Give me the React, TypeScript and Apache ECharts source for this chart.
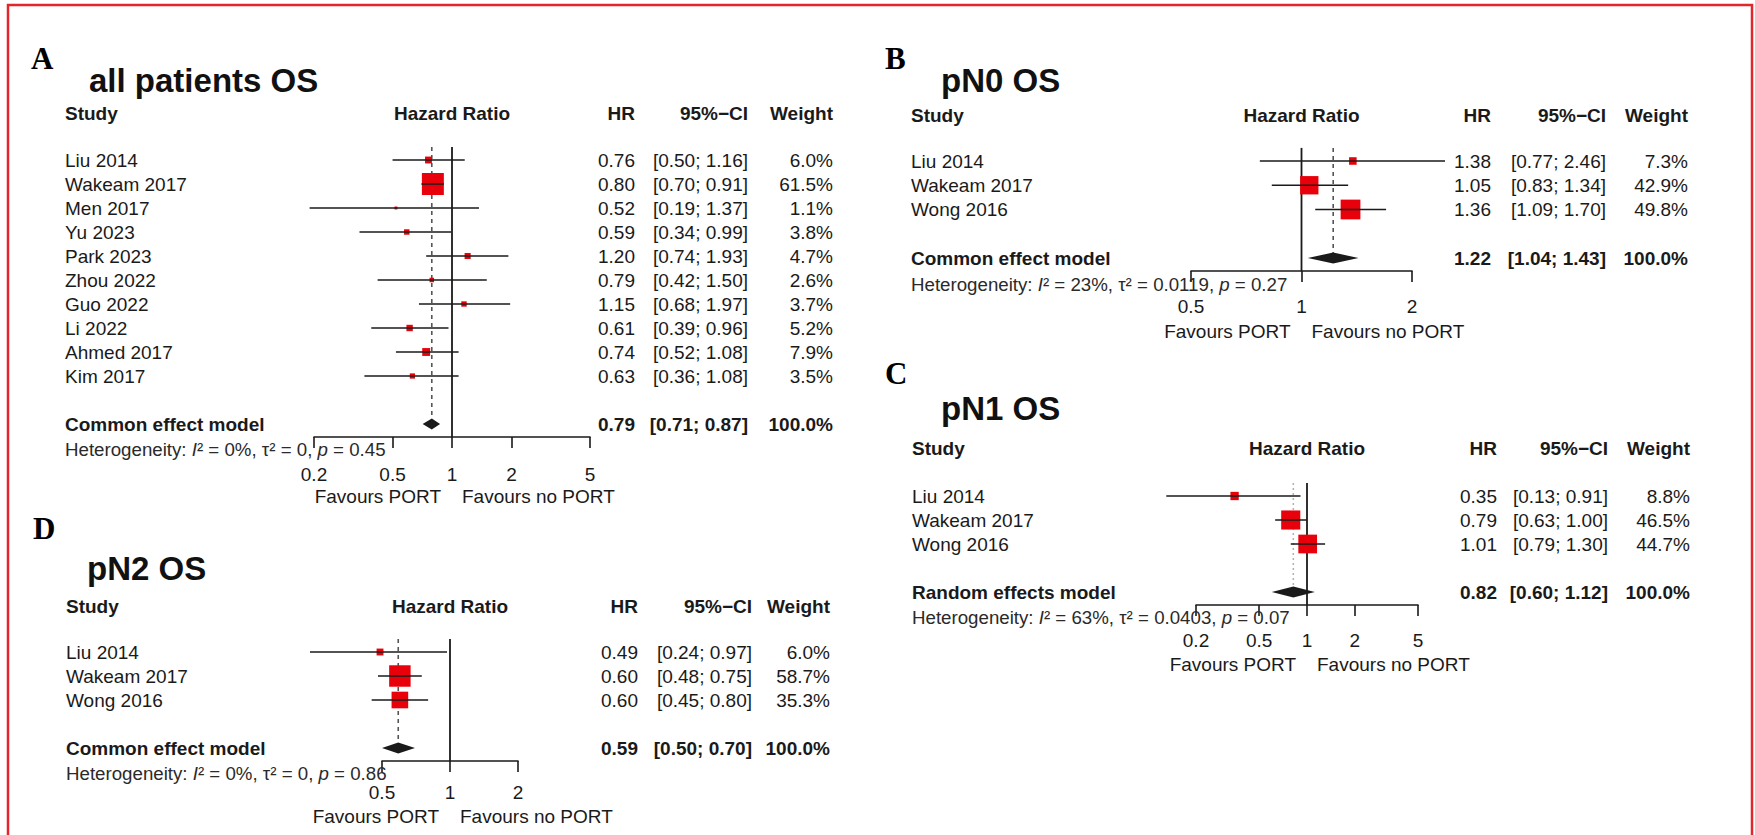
import React, { useEffect, useRef } from "react";
import * as echarts from "echarts";

const FONT = "'Liberation Sans', Arial, Helvetica, sans-serif";
const SERIF = "'Liberation Serif', 'Times New Roman', Times, serif";
const INK = "#1a1a1a";
const BOX = "#e8000b";
const BORDER = "#e3262b";

// ---------------- Panel A : all patients OS ----------------
const studiesA = ["Liu 2014", "Wakeam 2017", "Men 2017", "Yu 2023", "Park 2023", "Zhou 2022", "Guo 2022", "Li 2022", "Ahmed 2017", "Kim 2017"];
const hrA = [0.76, 0.8, 0.52, 0.59, 1.2, 0.79, 1.15, 0.61, 0.74, 0.63];
const lowerA = [0.5, 0.7, 0.19, 0.34, 0.74, 0.42, 0.68, 0.39, 0.52, 0.36];
const upperA = [1.16, 0.91, 1.37, 0.99, 1.93, 1.5, 1.97, 0.96, 1.08, 1.08];
const weightA = [6.0, 61.5, 1.1, 3.8, 4.7, 2.6, 3.7, 5.2, 7.9, 3.5];
const pooledA = [0.79, 0.71, 0.87, 100.0];
const hetA = ["0%", "0", "0.45"];
const ticksA = [0.2, 0.5, 1, 2, 5];

// ---------------- Panel B : pN0 OS ----------------
const studiesB = ["Liu 2014", "Wakeam 2017", "Wong 2016"];
const hrB = [1.38, 1.05, 1.36];
const lowerB = [0.77, 0.83, 1.09];
const upperB = [2.46, 1.34, 1.7];
const weightB = [7.3, 42.9, 49.8];
const pooledB = [1.22, 1.04, 1.43, 100.0];
const hetB = ["23%", "0.0119", "0.27"];
const ticksB = [0.5, 1, 2];

// ---------------- Panel C : pN1 OS ----------------
const studiesC = ["Liu 2014", "Wakeam 2017", "Wong 2016"];
const hrC = [0.35, 0.79, 1.01];
const lowerC = [0.13, 0.63, 0.79];
const upperC = [0.91, 1.0, 1.3];
const weightC = [8.8, 46.5, 44.7];
const pooledC = [0.82, 0.6, 1.12, 100.0];
const hetC = ["63%", "0.0403", "0.07"];
const ticksC = [0.2, 0.5, 1, 2, 5];

// ---------------- Panel D : pN2 OS ----------------
const studiesD = ["Liu 2014", "Wakeam 2017", "Wong 2016"];
const hrD = [0.49, 0.6, 0.6];
const lowerD = [0.24, 0.48, 0.45];
const upperD = [0.97, 0.75, 0.8];
const weightD = [6.0, 58.7, 35.3];
const pooledD = [0.59, 0.5, 0.7, 100.0];
const hetD = ["0%", "0", "0.86"];
const ticksD = [0.5, 1, 2];

const BOX_K = 2.8; // square side per sqrt(weight %)

// layout (pixels)
const layoutA = { letterX: 31, letterY: 58, titleX: 89, titleY: 80, headerY: 113, studyX: 65, left: 314, right: 590, firstRowY: 160, rowH: 24, hrX: 635, ciX: 748, wX: 833, tickOff: 38, favOff: 60 };
const layoutB = { letterX: 885, letterY: 58, titleX: 941, titleY: 80, headerY: 115, studyX: 911, left: 1191, right: 1412, firstRowY: 161, rowH: 24.25, hrX: 1491, ciX: 1606, wX: 1688, tickOff: 36, favOff: 60 };
const layoutC = { letterX: 885, letterY: 373, titleX: 941, titleY: 408, headerY: 448, studyX: 912, left: 1196, right: 1418, firstRowY: 496, rowH: 24, hrX: 1497, ciX: 1608, wX: 1690, tickOff: 36, favOff: 60 };
const layoutD = { letterX: 33, letterY: 528, titleX: 87, titleY: 568, headerY: 606, studyX: 66, left: 382, right: 518, firstRowY: 652, rowH: 24, hrX: 638, ciX: 752, wX: 830, tickOff: 32, favOff: 56 };

const panels = [
  { letter: "A", title: "all patients OS", studies: studiesA, hr: hrA, lower: lowerA, upper: upperA, weight: weightA, pooled: pooledA, model: "Common effect model", het: hetA, ticks: ticksA, random: false, L: layoutA },
  { letter: "B", title: "pN0 OS", studies: studiesB, hr: hrB, lower: lowerB, upper: upperB, weight: weightB, pooled: pooledB, model: "Common effect model", het: hetB, ticks: ticksB, random: false, L: layoutB },
  { letter: "C", title: "pN1 OS", studies: studiesC, hr: hrC, lower: lowerC, upper: upperC, weight: weightC, pooled: pooledC, model: "Random effects model", het: hetC, ticks: ticksC, random: true, L: layoutC },
  { letter: "D", title: "pN2 OS", studies: studiesD, hr: hrD, lower: lowerD, upper: upperD, weight: weightD, pooled: pooledD, model: "Common effect model", het: hetD, ticks: ticksD, random: false, L: layoutD },
];

function txt(x: number, y: number, text: string, opts: any = {}) {
  const align = opts.align || "left";
  const va = opts.verticalAlign || "middle";
  return {
    type: "text",
    x,
    y,
    silent: true,
    z: 10,
    style: {
      text,
      fill: opts.fill || INK,
      fontSize: opts.fontSize || 19,
      fontFamily: opts.fontFamily || FONT,
      fontWeight: opts.fontWeight || "normal",
      fontStyle: opts.fontStyle || "normal",
      align,
      verticalAlign: va,
      textAlign: align,
      textVerticalAlign: va,
      rich: opts.rich,
    },
  };
}

function buildOption() {
  const grid: any[] = [];
  const xAxis: any[] = [];
  const yAxis: any[] = [];
  const series: any[] = [];
  const graphic: any[] = [];

  graphic.push({
    type: "rect",
    silent: true,
    shape: { x: 8, y: 5, width: 1744, height: 860 },
    style: { fill: "none", stroke: BORDER, lineWidth: 2.5 },
  });

  panels.forEach((p, gi) => {
    const L = p.L;
    const n = p.studies.length;
    const sumIdx = n + 1;
    const yMin = -0.54;
    const yMax = sumIdx + 0.54;
    const top = L.firstRowY + yMin * L.rowH;
    const height = (yMax - yMin) * L.rowH;
    const axisY = top + height;
    const lnTicks = p.ticks.map((t) => Math.log(t));
    const centerX = (L.left + L.right) / 2;

    grid.push({ left: L.left, top, width: L.right - L.left, height, containLabel: false, show: false });
    xAxis.push({
      type: "value",
      gridIndex: gi,
      min: lnTicks[0],
      max: lnTicks[lnTicks.length - 1],
      axisLine: { show: true, onZero: false, lineStyle: { color: INK, width: 1.6 } },
      axisTick: { show: true, customValues: lnTicks, length: 11, inside: false, lineStyle: { color: INK, width: 1.6 } },
      axisLabel: {
        show: true,
        customValues: lnTicks,
        margin: L.tickOff - 10,
        fontSize: 19,
        fontFamily: FONT,
        color: INK,
        formatter: (v: number) => {
          const i = lnTicks.findIndex((t) => Math.abs(t - v) < 1e-6);
          return i >= 0 ? String(p.ticks[i]) : "";
        },
      },
      splitLine: { show: false },
    });
    yAxis.push({ type: "value", gridIndex: gi, inverse: true, min: yMin, max: yMax, show: false });

    // reference lines: no-effect line (x = 1) and pooled estimate line
    series.push({
      type: "custom",
      xAxisIndex: gi,
      yAxisIndex: gi,
      clip: false,
      silent: true,
      z: 1,
      data: [
        [0, 0],
        [Math.log(p.pooled[0]), 1],
      ],
      renderItem: (params: any, api: any) => {
        const x = api.value(0);
        const kind = api.value(1);
        const a = api.coord([x, yMin]);
        if (kind === 0) {
          const b = api.coord([x, yMax]);
          return { type: "line", shape: { x1: a[0], y1: a[1], x2: b[0], y2: b[1] }, style: { stroke: INK, lineWidth: 1.8 } };
        }
        const b = api.coord([x, sumIdx]);
        return {
          type: "line",
          shape: { x1: a[0], y1: a[1], x2: b[0], y2: b[1] - 5 },
          style: p.random
            ? { stroke: "#b0b0b0", lineWidth: 1.5, lineDash: [2, 3] }
            : { stroke: "#555555", lineWidth: 1.6, lineDash: [4, 4] },
        };
      },
    });

    // studies
    series.push({
      type: "custom",
      xAxisIndex: gi,
      yAxisIndex: gi,
      clip: false,
      silent: true,
      z: 3,
      data: p.hr.map((h, i) => [Math.log(h), Math.log(p.lower[i]), Math.log(p.upper[i]), i, p.weight[i]]),
      renderItem: (params: any, api: any) => {
        const i = params.dataIndex;
        const row = api.value(3);
        const c = api.coord([api.value(0), row]);
        const lo = api.coord([api.value(1), row]);
        const hi = api.coord([api.value(2), row]);
        const s = BOX_K * Math.sqrt(api.value(4));
        const y = c[1];
        return {
          type: "group",
          children: [
            { type: "rect", shape: { x: c[0] - s / 2, y: y - s / 2, width: s, height: s }, style: { fill: BOX } },
            { type: "line", shape: { x1: lo[0], y1: y, x2: hi[0], y2: y }, style: { stroke: INK, lineWidth: 1.5 } },
            txt(L.studyX, y, p.studies[i]),
            txt(L.hrX, y, p.hr[i].toFixed(2), { align: "right" }),
            txt(L.ciX, y, `[${p.lower[i].toFixed(2)}; ${p.upper[i].toFixed(2)}]`, { align: "right" }),
            txt(L.wX, y, `${p.weight[i].toFixed(1)}%`, { align: "right" }),
          ],
        };
      },
    });

    // pooled estimate
    series.push({
      type: "custom",
      xAxisIndex: gi,
      yAxisIndex: gi,
      clip: false,
      silent: true,
      z: 3,
      data: [[Math.log(p.pooled[0]), Math.log(p.pooled[1]), Math.log(p.pooled[2]), sumIdx, p.pooled[3]]],
      renderItem: (params: any, api: any) => {
        const row = api.value(3);
        const c = api.coord([api.value(0), row]);
        const lo = api.coord([api.value(1), row]);
        const hi = api.coord([api.value(2), row]);
        const y = c[1];
        const h = 5.5;
        return {
          type: "group",
          children: [
            {
              type: "polygon",
              shape: { points: [[lo[0], y], [c[0], y - h], [hi[0], y], [c[0], y + h]] },
              style: { fill: INK },
            },
            txt(L.studyX, y, p.model, { fontWeight: "bold" }),
            txt(L.hrX, y, p.pooled[0].toFixed(2), { align: "right", fontWeight: "bold" }),
            txt(L.ciX, y, `[${p.pooled[1].toFixed(2)}; ${p.pooled[2].toFixed(2)}]`, { align: "right", fontWeight: "bold" }),
            txt(L.wX, y, `${p.pooled[3].toFixed(1)}%`, { align: "right", fontWeight: "bold" }),
          ],
        };
      },
    });

    // panel letter, title, header
    graphic.push(txt(L.letterX, L.letterY, p.letter, { fontFamily: SERIF, fontWeight: "bold", fontSize: 31, fill: "#000" }));
    graphic.push(txt(L.titleX, L.titleY, p.title, { fontWeight: "bold", fontSize: 33, fill: "#111" }));
    graphic.push(txt(L.studyX, L.headerY, "Study", { fontWeight: "bold" }));
    graphic.push(txt(centerX, L.headerY, "Hazard Ratio", { fontWeight: "bold", align: "center" }));
    graphic.push(txt(L.hrX, L.headerY, "HR", { fontWeight: "bold", align: "right" }));
    graphic.push(txt(L.ciX, L.headerY, "95%\u2212CI", { fontWeight: "bold", align: "right" }));
    graphic.push(txt(L.wX, L.headerY, "Weight", { fontWeight: "bold", align: "right" }));

    // heterogeneity
    const itStyle = { fontStyle: "italic", fontSize: 18.7, fontFamily: FONT, fill: "#2a2a2a" };
    graphic.push(
      txt(L.studyX, axisY + 13, `Heterogeneity: {it|I}\u00b2 = ${p.het[0]}, \u03c4\u00b2 = ${p.het[1]}, {it|p} = ${p.het[2]}`, {
        fontSize: 18.7,
        fill: "#2a2a2a",
        rich: { it: itStyle },
      })
    );

    // favours labels, anchored around x = 1
    const xOne = L.left + ((0 - lnTicks[0]) / (lnTicks[lnTicks.length - 1] - lnTicks[0])) * (L.right - L.left);
    graphic.push(txt(xOne - 11, axisY + L.favOff, "Favours PORT", { align: "right" }));
    graphic.push(txt(xOne + 10, axisY + L.favOff, "Favours no PORT"));
  });

  return {
    animation: false,
    backgroundColor: "#ffffff",
    grid,
    xAxis,
    yAxis,
    series,
    graphic,
  };
}

export default function App() {
  const ref = useRef<HTMLDivElement>(null);
  useEffect(() => {
    if (!ref.current) return;
    const chart = echarts.init(ref.current, null, { renderer: "svg" });
    chart.setOption(buildOption() as any);
    return () => chart.dispose();
  }, []);
  return (
    <div
      ref={ref}
      style={{ position: "absolute", left: 0, top: 0, width: 1755, height: 835, background: "#fff" }}
    />
  );
}
